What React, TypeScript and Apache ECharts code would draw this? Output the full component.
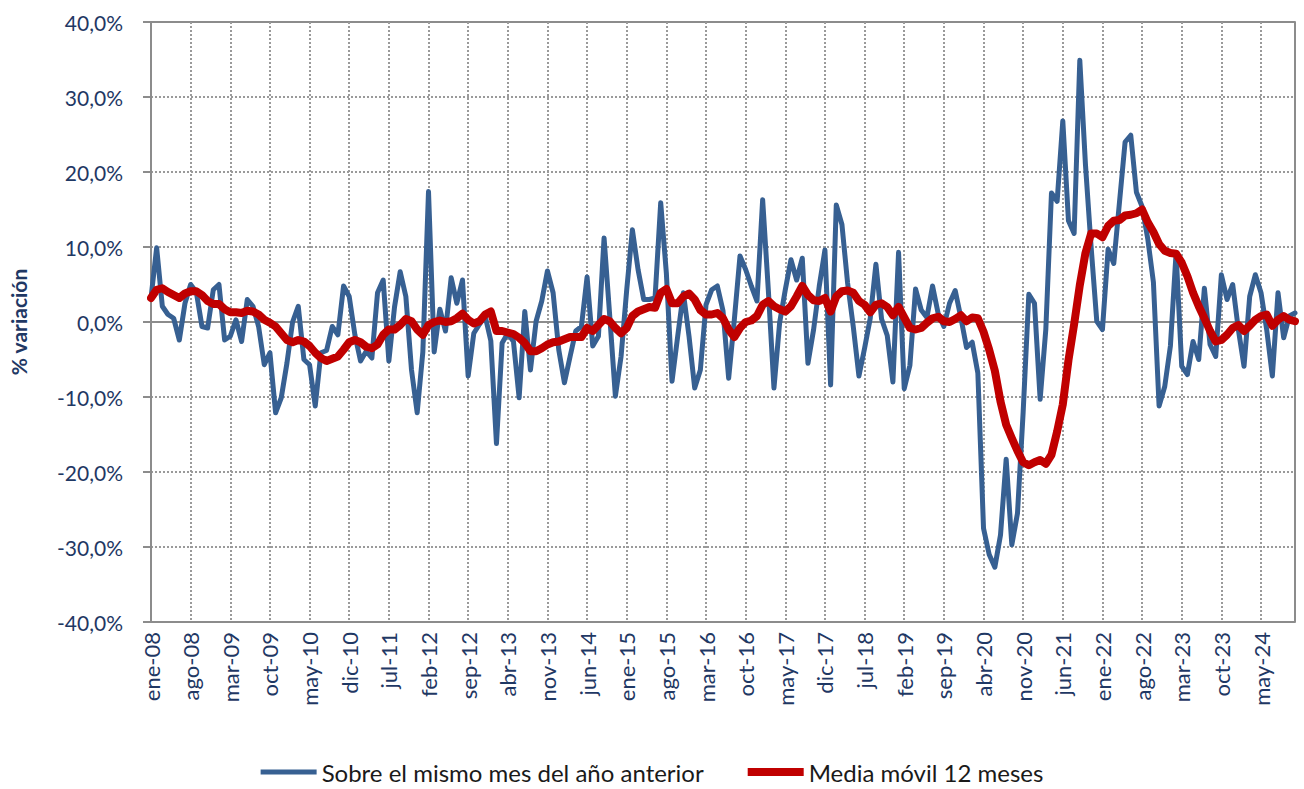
import React, { useEffect, useRef } from "react";
import * as echarts from "echarts";

const monthNames = ["ene", "feb", "mar", "abr", "may", "jun", "jul", "ago", "sep", "oct", "nov", "dic"];
const startYear = 2008;
const monthCount = 203; // ene-08 .. nov-24

const categories: string[] = [];
for (let i = 0; i < monthCount; i++) {
  const y = startYear + Math.floor(i / 12);
  categories.push(`${monthNames[i % 12]}-${String(y % 100).padStart(2, "0")}`);
}

// "Sobre el mismo mes del año anterior" (% variación interanual)
const yoyChange: number[] = [
  3.2, 9.9, 2.1, 1.0, 0.5, -2.4, 2.5, 5.0, 4.0, -0.6, -0.8, 4.3,
  5.0, -2.4, -1.9, 0.3, -2.6, 3.0, 2.1, -0.6, -5.7, -4.1, -12.1, -10.1,
  -5.5, 0.0, 2.1, -5.0, -5.7, -11.2, -4.1, -3.8, -0.6, -1.7, 4.8, 3.4,
  -1.7, -5.2, -3.9, -4.8, 3.9, 5.6, -5.2, 2.0, 6.7, 3.4, -6.4, -12.1,
  -4.0, 17.4, -4.0, 1.7, -1.2, 5.9, 2.5, 5.6, -7.2, -1.5, -0.3, 0.8,
  -2.5, -16.2, -2.8, -1.5, -2.6, -10.1, 1.4, -6.4, 0.1, 2.8, 6.8, 3.9,
  -3.7, -8.1, -4.6, -1.2, -0.6, 6.0, -3.2, -1.9, 11.2, 0.8, -9.9, -4.6,
  4.3, 12.3, 7.0, 3.0, 3.0, 3.2, 15.9, 6.5, -7.9, -1.9, 3.9, -1.9,
  -8.8, -6.4, 2.3, 4.3, 4.8, 1.5, -7.5, 0.3, 8.8, 7.0, 4.8, 2.8,
  16.3, 4.3, -8.8, -0.1, 4.3, 8.3, 5.6, 8.5, -5.5, -1.0, 4.8, 9.6,
  -8.4, 15.6, 13.0, 5.2, -0.6, -7.2, -3.5, 0.5, 7.7, 0.4, -1.8, -8.0,
  9.3, -8.9, -5.8, 4.4, 1.6, 0.6, 4.8, 1.1, -0.6, 2.5, 4.2, 0.6,
  -3.4, -2.7, -6.8, -27.5, -31.0, -32.7, -28.4, -18.3, -29.7, -25.5, -12.0, 3.7,
  2.5, -10.3, -1.0, 17.2, 16.1, 26.8, 13.5, 11.8, 34.9, 21.0, 10.0, 0.1,
  -1.0, 9.7, 7.8, 15.9, 24.0, 24.9, 17.3, 15.4, 11.1, 5.3, -11.2, -8.6,
  -3.2, 9.2, -5.9, -7.0, -2.6, -5.0, 4.5, -3.0, -4.6, 6.3, 3.0, 5.0,
  -1.0, -5.9, 3.4, 6.3, 3.9, -1.0, -7.2, 3.9, -2.1, 0.8, 1.2,
];

// "Media móvil 12 meses"
const movingAvg12: number[] = [
  3.2, 4.3, 4.5, 4.0, 3.6, 3.2, 3.8, 4.1, 4.1, 3.6, 2.8, 2.4,
  2.4, 1.7, 1.3, 1.3, 1.2, 1.5, 1.4, 1.0, 0.3, -0.1, -0.6, -1.5,
  -2.4, -2.7, -2.4, -2.6, -3.2, -4.1, -4.8, -5.2, -4.9, -4.6, -3.7, -2.7,
  -2.4, -2.7, -3.3, -3.5, -3.0, -1.7, -1.0, -1.0, -0.4, 0.4, 0.1, -1.0,
  -1.7, -0.4, 0.0, 0.2, 0.0, 0.1, 0.5, 1.1, 0.3, -0.2, 0.1, 1.0,
  1.4, -1.2, -1.2, -1.4, -1.6, -2.1, -2.8, -3.9, -3.9, -3.5, -3.0, -2.7,
  -2.6, -2.3, -2.0, -2.0, -2.0, -0.8, -1.2, -0.4, 0.4, 0.1, -0.8, -1.5,
  -0.8, 0.8, 1.4, 1.7, 2.0, 1.9, 3.9, 4.4, 2.5, 2.5, 3.4, 3.8,
  3.0, 1.6, 1.0, 1.0, 1.2, 0.5, -1.0, -2.0, -0.8, 0.0, 0.2, 0.8,
  2.3, 2.8, 2.1, 1.7, 1.4, 2.1, 3.4, 4.8, 3.6, 2.9, 2.8, 3.2,
  1.4, 3.4, 4.1, 4.2, 3.9, 2.8, 2.3, 1.3, 2.3, 2.5, 2.0, 0.9,
  2.0, 0.6, -0.8, -1.0, -0.8, -0.1, 0.5, 0.7, 0.1, 0.0, 0.4, 0.9,
  0.1, 0.6, 0.5, -1.3, -3.7, -6.5, -10.6, -13.7, -15.5, -17.2, -18.7, -19.1,
  -18.7, -18.4, -18.9, -17.7, -14.6, -11.0, -5.1, -0.3, 4.9, 9.2, 11.8, 11.8,
  11.3, 12.8, 13.5, 13.6, 14.2, 14.3, 14.5, 15.0, 13.3, 12.0, 10.4, 9.5,
  9.2, 9.1, 7.9, 6.1, 3.9, 2.1, 0.5, -1.2, -2.6, -2.4, -1.7, -0.8,
  -0.4, -1.2, -0.5, 0.3, 0.8, 1.0, -0.5, 0.3, 0.8, 0.3, 0.1,
];

const yMin = -40;
const yMax = 40;
const yStep = 10;
const labelStep = 7; // one label every 7 months

const seriesNames = ["Sobre el mismo mes del año anterior", "Media móvil 12 meses"];
const axisTitle = "% variación";

const FONT = "Lato, 'Open Sans', sans-serif";
const NAVY = "#1F3864";
const BLUE = "#376092";
const RED = "#C00000";
const AXIS_GREY = "#8C8C8C";
const GRID_GREY = "#9A9A9A";

export default function App() {
  const ref = useRef<HTMLDivElement | null>(null);

  useEffect(() => {
    if (!ref.current) return;
    const chart = echarts.init(ref.current, undefined, { renderer: "svg" });
    chart.setOption({
      animation: false,
      backgroundColor: "#ffffff",
      grid: { left: 147, right: 9, top: 22, bottom: 167, containLabel: false },
      legend: {
        data: [
          { name: seriesNames[0], icon: "path://M0,0 L56,0 L56,5 L0,5 Z" },
          { name: seriesNames[1], icon: "path://M0,0 L56,0 L56,8 L0,8 Z" },
        ],
        left: "center",
        bottom: 2,
        padding: 0,
        itemWidth: 56,
        itemHeight: 10,
        itemGap: 44,
        textStyle: { fontFamily: FONT, fontSize: 24, color: "#1a1a1a", lineHeight: 30 },
      },
      xAxis: {
        type: "category",
        data: categories,
        boundaryGap: false,
        axisLine: { show: true, lineStyle: { color: AXIS_GREY, width: 2 } },
        axisTick: { show: false },
        axisLabel: {
          interval: labelStep - 1,
          rotate: 90,
          margin: 10,
          fontFamily: FONT,
          fontSize: 22,
          color: NAVY,
        },
        splitLine: {
          show: true,
          interval: labelStep - 1,
          lineStyle: { color: GRID_GREY, width: 2, type: [2, 2] },
        },
      },
      yAxis: [
        {
          type: "value",
          min: yMin,
          max: yMax,
          interval: yStep,
          name: axisTitle,
          nameLocation: "middle",
          nameGap: 122,
          nameRotate: 90,
          nameTextStyle: { fontFamily: FONT, fontSize: 21, fontWeight: "bold", color: NAVY },
          axisLine: { show: true, lineStyle: { color: AXIS_GREY, width: 2 } },
          axisTick: { show: true, length: 8, inside: false, lineStyle: { color: AXIS_GREY, width: 2 } },
          axisLabel: {
            margin: 28,
            fontFamily: FONT,
            fontSize: 21,
            color: NAVY,
            formatter: (v: number) => v.toFixed(1).replace(".", ",") + "%",
          },
          splitLine: { show: true, lineStyle: { color: GRID_GREY, width: 2, type: [2, 2] } },
        },
        {
          type: "value",
          position: "right",
          min: yMin,
          max: yMax,
          interval: yMax,
          axisLine: { show: true, lineStyle: { color: AXIS_GREY, width: 2 } },
          axisTick: { show: false },
          axisLabel: { show: false },
          splitLine: { show: true, lineStyle: { color: AXIS_GREY, width: 2, type: "solid" } },
        },
      ],
      series: [
        {
          name: seriesNames[0],
          type: "line",
          yAxisIndex: 0,
          data: yoyChange,
          showSymbol: false,
          symbol: "none",
          lineStyle: { color: BLUE, width: 5, join: "round", cap: "round" },
          itemStyle: { color: BLUE },
          z: 3,
        },
        {
          name: seriesNames[1],
          type: "line",
          yAxisIndex: 0,
          data: movingAvg12,
          showSymbol: false,
          symbol: "none",
          lineStyle: { color: RED, width: 8, join: "round", cap: "round" },
          itemStyle: { color: RED },
          z: 4,
        },
      ],
    });
    return () => chart.dispose();
  }, []);

  return (
    <div
      ref={ref}
      style={{ position: "absolute", left: 0, top: 0, width: 1304, height: 789, background: "#fff" }}
    />
  );
}
